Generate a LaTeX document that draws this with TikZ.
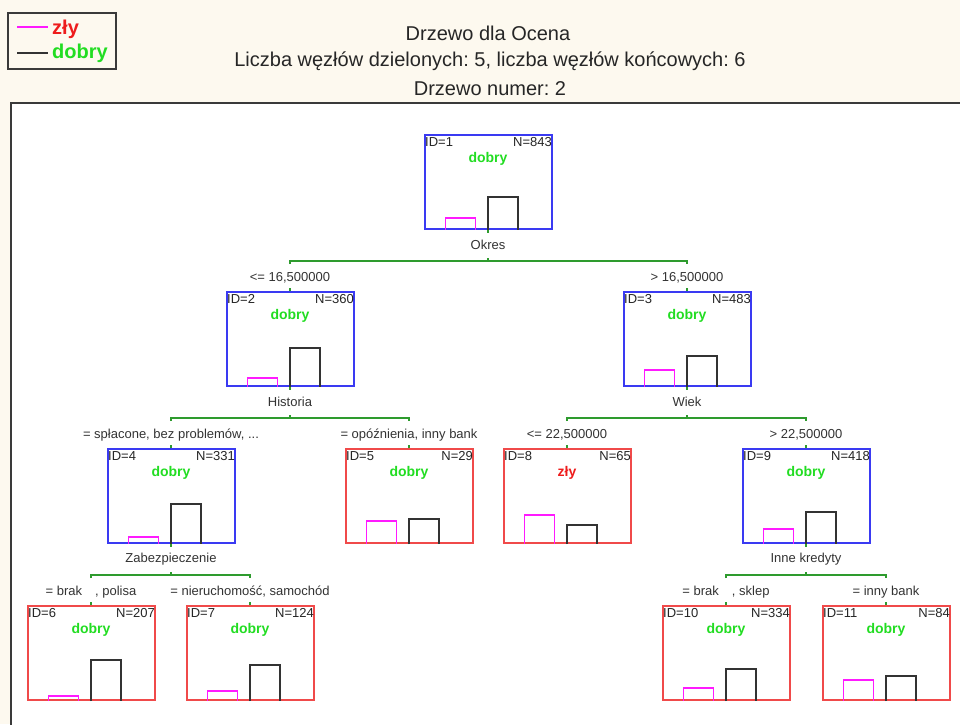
\documentclass[tikz,border=0pt]{standalone}
\usepackage{fontspec}
\setmainfont{Liberation Sans}
\usetikzlibrary{positioning,calc}
\definecolor{paperBg}{HTML}{FDF9EF}
\definecolor{panelDraw}{HTML}{3A3A3A}
\definecolor{blueFrame}{HTML}{3A3AF2}
\definecolor{redFrame}{HTML}{F04A4A}
\definecolor{zlyBar}{HTML}{FF1AFF}
\definecolor{dobryBar}{HTML}{333333}
\definecolor{dobryText}{HTML}{22DD22}
\definecolor{zlyText}{HTML}{EE1C1C}
\definecolor{splitDraw}{HTML}{2E9B2E}
\frenchspacing
\tikzset{
  x=1pt, y=-1pt,
  font=\fontsize{13}{15}\selectfont,
  treebox/.style ={draw, minimum width=127pt, minimum height=94pt, inner sep=0pt, line width=2pt},
  info/.style    ={inner sep=0.5pt, text=black!85},
  cls/.style     ={font=\fontsize{14}{16}\selectfont\bfseries, inner sep=0pt},
  zlybar/.style  ={draw=zlyBar, line width=1.8pt},
  dobrybar/.style={draw=dobryBar, line width=1.8pt},
  split/.style   ={draw=splitDraw, line width=1.4pt},
  splitlbl/.style={text=black!80, inner sep=0pt},
  title/.style   ={font=\fontsize{20}{24}\selectfont, text=black!85, inner sep=0pt},
  legtext/.style ={font=\fontsize{20}{24}\selectfont\bfseries, inner sep=0pt, anchor=west},
}

\begin{document}
\begin{tikzpicture}
  \clip (0,0) rectangle (960,724);
  \fill[paperBg] (0,0) rectangle (960,724);
  % white panel, runs past the right and bottom edges
  \draw[panelDraw, fill=white, line width=2.2pt] (11,103) rectangle (990,760);

  % legend
  \node[draw=panelDraw, line width=1.6pt, minimum width=108pt, minimum height=56pt,
        anchor=north west, inner sep=0pt] (leg) at (7,12) {};
  \node[legtext, text=zlyText]   (lzly)   at (52,29) {zły};
  \node[legtext, text=dobryText] (ldobry) at (52,53) {dobry};
  \draw[zlyBar, line width=1.6pt]   ([xshift=-35pt,yshift=2pt]lzly.west) -- ([xshift=-4pt,yshift=2pt]lzly.west);
  \draw[dobryBar, line width=1.6pt] ([xshift=-35pt]ldobry.west) -- ([xshift=-4pt]ldobry.west);

  % titles
  \node[title] (t1) at (488,33) {Drzewo dla Ocena};
  \node[title] (t2) at (490,61) {Liczba węzłów dzielonych: 5, liczba węzłów końcowych: 6};
  \node[title] (t3) at (490,89) {Drzewo numer: 2};

  % tree nodes: name/x/top/id/N/class/class colour/frame/bar heights
  \foreach \n/\x/\y/\id/\cnt/\cl/\clc/\frm/\hz/\hd in {
      n1/488/135/1/843/dobry/dobryText/blueFrame/12/33,
      n2/290/292/2/360/dobry/dobryText/blueFrame/9/39,
      n3/687/292/3/483/dobry/dobryText/blueFrame/17/31,
      n4/171/449/4/331/dobry/dobryText/blueFrame/7/40,
      n5/409/449/5/29/dobry/dobryText/redFrame/23/25,
      n8/567/449/8/65/zły/zlyText/redFrame/29/19,
      n9/806/449/9/418/dobry/dobryText/blueFrame/15/32,
      n6/91/606/6/207/dobry/dobryText/redFrame/5/41,
      n7/250/606/7/124/dobry/dobryText/redFrame/10/36,
      n10/726/606/10/334/dobry/dobryText/redFrame/13/32,
      n11/886/606/11/84/dobry/dobryText/redFrame/21/25} {
    \node[treebox, draw=\frm] (\n) at (\x,\y+47) {};
    \node[info, anchor=north west] (\n id)  at ([xshift=1pt,yshift=-3pt]\n.north west) {ID=\id};
    \node[info, anchor=north east] (\n cnt) at ([yshift=-3pt]\n.north east) {N=\cnt};
    \node[cls, text=\clc] (\n cls) at ([yshift=-25pt]\n.north) {\cl};
    \draw[zlybar]   ([xshift=-42.5pt]\n.south) -- ++(0,-\hz) -- ++(30,0) -- ++(0,\hz);
    \draw[dobrybar] (\n.south) -- ++(0,-\hd) -- ++(30,0) -- ++(0,\hd);
  }

  % splits: parent/left child/right child
  \foreach \p/\a/\b in {n1/n2/n3, n2/n4/n5, n3/n8/n9, n4/n6/n7, n9/n10/n11} {
    \coordinate (b\p) at ([yshift=-31pt]\p.south);
    \draw[split] (\p.south) -- ++(0,3);
    \draw[split] (b\p) -- ++(0,-3);
    \draw[split] (\a.north |- b\p) ++(0,3) -- (\a.north |- b\p) -- (\b.north |- b\p) -- ++(0,3);
    \draw[split] (\a.north) -- ++(0,-3);
    \draw[split] (\b.north) -- ++(0,-3);
  }
  \foreach \p/\txt in {n1/Okres, n2/Historia, n3/Wiek, n4/Zabezpieczenie, n9/Inne kredyty}
    \node[splitlbl] (l\p) at ([yshift=-15pt]\p.south) {\txt};

  % conditions above the children
  \foreach \c/\txt in {n2/{<= 16,500000}, n3/{> 16,500000},
      n4/{= spłacone, bez problemów, ...}, n5/{= opóźnienia, inny bank},
      n8/{<= 22,500000}, n9/{> 22,500000},
      n6/{= brak\hspace{13pt}, polisa}, n7/{= nieruchomość, samochód},
      n10/{= brak\hspace{13pt}, sklep}, n11/{= inny bank}}
    \node[splitlbl] (c\c) at ([yshift=13pt]\c.north) {\txt};
\end{tikzpicture}
\end{document}
